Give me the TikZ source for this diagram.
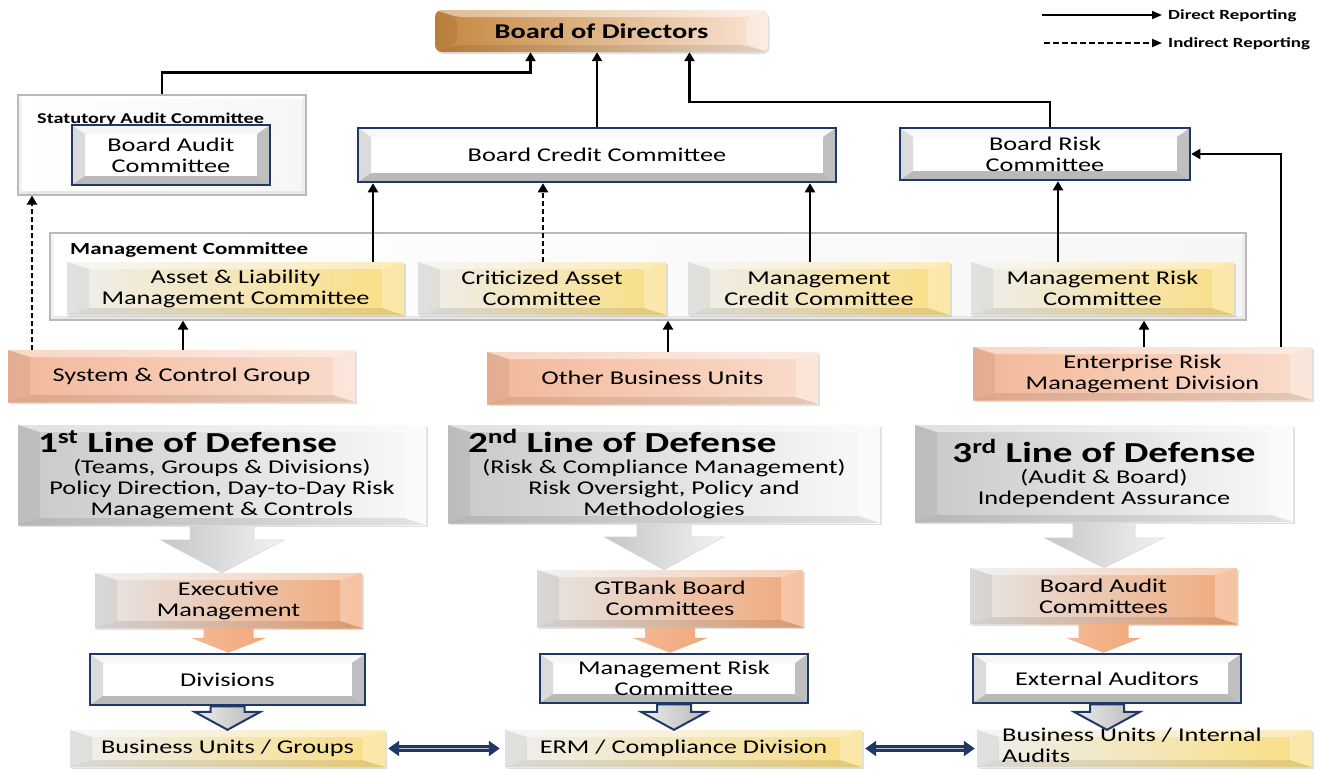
\documentclass[tikz,border=0pt]{standalone}
\usepackage{fontspec}
\setmainfont{Carlito}[FakeStretch=1.35]
\usetikzlibrary{arrows.meta,calc,shadows}

\definecolor{navy}{RGB}{31,56,100}
\definecolor{bodL}{RGB}{196,134,62}
\definecolor{bodR}{RGB}{251,230,214}
\definecolor{yelL}{RGB}{238,238,238}
\definecolor{yelR}{RGB}{250,222,130}
\definecolor{peaL}{RGB}{242,184,154}
\definecolor{peaR}{RGB}{250,220,204}
\definecolor{oraL}{RGB}{230,230,230}
\definecolor{oraR}{RGB}{241,168,122}
\definecolor{gryL}{RGB}{200,200,200}
\definecolor{gryR}{RGB}{250,250,250}

% bevel edges drawn inside a node (top, left, bottom, right, inset x, inset y)
\newcommand{\bevelfill}[6]{%
  \coordinate (bvnw) at (path picture bounding box.north west);
  \coordinate (bvne) at (path picture bounding box.north east);
  \coordinate (bvsw) at (path picture bounding box.south west);
  \coordinate (bvse) at (path picture bounding box.south east);
  \fill[#1] (bvnw) -- (bvne) -- ($(bvne)+(-#5,#6)$) -- ($(bvnw)+(#5,#6)$) -- cycle;
  \fill[#2] (bvnw) -- ($(bvnw)+(#5,#6)$) -- ($(bvsw)+(#5,-#6)$) -- (bvsw) -- cycle;
  \fill[#3] (bvsw) -- ($(bvsw)+(#5,-#6)$) -- ($(bvse)+(-#5,-#6)$) -- (bvse) -- cycle;
  \fill[#4] (bvse) -- ($(bvse)+(-#5,-#6)$) -- ($(bvne)+(-#5,#6)$) -- (bvne) -- cycle;}

% block arrow from one node down to the next (style, from, to, half shaft, half head, head length)
\newcommand{\fatarrow}[6]{%
  \coordinate (#2-tip) at (#2.south |- #3.north);
  \path[#1] ($(#2.south)+(-#4,0)$) -- ($(#2.south)+(#4,0)$)
    -- ($(#2-tip)+(#4,-#6)$) -- ($(#2-tip)+(#5,-#6)$) -- (#2-tip)
    -- ($(#2-tip)+(-#5,-#6)$) -- ($(#2-tip)+(-#4,-#6)$) -- cycle;}

\tikzset{
  every node/.style={inner sep=0pt, align=center, font=\fontsize{19.5}{21}\selectfont},
  sz/.style 2 args={minimum width=#1pt, minimum height=#2pt},
  soft/.style={drop shadow={opacity=0.25, shadow xshift=1.5pt, shadow yshift=-2pt},
    path picture={\bevelfill{white,fill opacity=0.45}{black,fill opacity=0.06}{black,fill opacity=0.09}{white,fill opacity=0.30}{22}{7}}},
  bodbox/.style={soft, rounded corners=7pt, left color=bodL, right color=bodR, font=\fontsize{21}{23}\selectfont\bfseries},
  yellowbox/.style={soft, left color=yelL, right color=yelR},
  peachbox/.style={soft, left color=peaL, right color=peaR},
  orangebox/.style={soft, left color=oraL, right color=oraR},
  lodbox/.style={soft, left color=gryL, right color=gryR},
  outerbox/.style={draw=gray!55, line width=1.2pt, left color=white, right color=gray!7,
    path picture={\bevelfill{white}{gray!10}{gray!18}{gray!14}{4}{4}}},
  framebox/.style={draw=navy, line width=2.5pt, fill=white,
    path picture={\bevelfill{gray!6}{gray!28}{gray!55}{gray!50}{13}{9}}},
  smalltitle/.style={anchor=west, font=\fontsize{15}{17}\selectfont\bfseries},
  legendtext/.style={anchor=west, font=\fontsize{14}{16}\selectfont\bfseries},
  conn/.style={line width=2.5pt, -{Triangle[length=9pt,width=10pt]}},
  indirect/.style={conn, dash pattern=on 5pt off 3pt},
  legendline/.style={line width=1.8pt, -{Triangle[length=10pt,width=8pt]}},
  bothway/.style={draw=navy, line width=2.4pt, double=gray!45, double distance=1.4pt,
    {Triangle[length=11pt,width=15pt]}-{Triangle[length=11pt,width=15pt]}},
  bigarrow/.style={left color=gray!45, right color=gray!10, draw=gray!30, line width=0.6pt},
  orangearrow/.style={left color=oraR!80!white, right color=oraR, draw=none},
  bluearrow/.style={left color=gray!15, right color=gray!55, draw=navy, line width=2pt}
}

\begin{document}
\begin{tikzpicture}[x=1pt, y=-1pt]
\useasboundingbox (0,0) rectangle (1327,769);

% legend
\coordinate (dirA) at (1042,15);
\coordinate (dirB) at (1162,15);
\coordinate (indA) at (1044,43);
\coordinate (indB) at (1162,43);
\node[legendtext] (dirtext) at (1168,16) {Direct Reporting};
\node[legendtext] (indtext) at (1168,44) {Indirect Reporting};
\draw[legendline] (dirA) -- (dirB);
\draw[legendline, dash pattern=on 6pt off 3pt] (indA) -- (indB);

% top board
\node[bodbox, sz={333}{42}] (bod) at (601.5,31) {Board of Directors};

% board committees
\node[outerbox, sz={288}{100}] (sac) at (162,145) {};
\node[smalltitle] (sactitle) at (37,119) {Statutory Audit Committee};
\node[framebox, sz={198}{60}] (bac) at (171,155) {Board Audit\\Committee};
\node[framebox, sz={478}{54}] (bcc) at (597,155) {Board Credit Committee};
\node[framebox, sz={290}{52}] (brc) at (1045,154) {Board Risk\\Committee};

% management committee
\node[outerbox, sz={1196}{87}] (mc) at (648,276.5) {};
\node[smalltitle, font=\fontsize{17}{19}\selectfont\bfseries] (mctitle) at (70,250) {Management Committee};
\node[yellowbox, sz={337}{53}] (almc) at (235.5,288.5) {Asset \& Liability\\Management Committee};
\node[yellowbox, sz={248}{53}] (cac) at (542,288.5) {Criticized Asset\\Committee};
\node[yellowbox, sz={262}{53}] (mcc) at (819,288.5) {Management\\Credit Committee};
\node[yellowbox, sz={263}{53}] (mrc) at (1102.5,288.5) {Management Risk\\Committee};

% units
\node[peachbox, sz={347}{52}] (scg) at (181.5,376) {System \& Control Group};
\node[peachbox, sz={331}{52}] (obu) at (652.5,378) {Other Business Units};
\node[peachbox, sz={339}{53}] (ermd) at (1142.5,373.5) {Enterprise Risk\\Management Division};

% lines of defense
\node[lodbox, sz={408}{100}] (lod1) at (222,475)
  {\makebox[390pt][l]{\hspace{11pt}\fontsize{29}{30}\selectfont\bfseries 1\textsuperscript{st} Line of Defense}\\
   (Teams, Groups \& Divisions)\\Policy Direction, Day-to-Day Risk\\Management \& Controls};
\node[lodbox, sz={432}{98}] (lod2) at (664,474)
  {\makebox[410pt][l]{\hspace{9pt}\fontsize{29}{30}\selectfont\bfseries 2\textsuperscript{nd} Line of Defense}\\
   (Risk \& Compliance Management)\\Risk Oversight, Policy and\\Methodologies};
\node[lodbox, sz={378}{97}] (lod3) at (1104,473.5)
  {{\fontsize{29}{30}\selectfont\bfseries 3\textsuperscript{rd} Line of Defense}\\
   (Audit \& Board)\\Independent Assurance};

\node[orangebox, sz={267}{55}] (exec) at (228.5,600.5) {Executive\\Management};
\node[orangebox, sz={266}{57}] (gtb) at (670,598.5) {GTBank Board\\Committees};
\node[orangebox, sz={267}{56}] (bauc) at (1103.5,596) {Board Audit\\Committees};

\node[framebox, sz={275}{51}] (divs) at (227.5,679.5) {Divisions};
\node[framebox, sz={268}{49}] (mrc2) at (674,678.5) {Management Risk\\Committee};
\node[framebox, sz={268}{49}] (ext) at (1107,678.5) {External Auditors};

\node[yellowbox, sz={315}{37}] (bug) at (227.5,748.5) {Business Units / Groups};
\node[yellowbox, sz={357}{37}] (erm) at (683.5,748.5) {ERM / Compliance Division};
\node[yellowbox, sz={335}{37}] (buia) at (1144.5,748.5) {};
\node[anchor=north west, align=left] (buiatext) at (1002,728) {Business Units / Internal\\Audits};

% block arrows
\fatarrow{bigarrow}{lod1}{exec}{32}{62}{33}
\fatarrow{bigarrow}{lod2}{gtb}{27}{60}{33}
\fatarrow{bigarrow}{lod3}{bauc}{31}{60}{30}
\fatarrow{orangearrow}{exec}{divs}{25}{38}{15}
\fatarrow{orangearrow}{gtb}{mrc2}{25}{38}{15}
\fatarrow{orangearrow}{bauc}{ext}{25}{38}{15}
\fatarrow{bluearrow}{divs}{bug}{17}{33}{18}
\fatarrow{bluearrow}{mrc2}{erm}{17}{33}{18}
\fatarrow{bluearrow}{ext}{buia}{17}{33}{18}

% reporting lines
\draw[conn] (sac.north) -- ++(0,-22) -| ([xshift=-71pt]bod.south);
\draw[conn] (bcc.north) -- (bcc.north |- bod.south);
\draw[conn] ([xshift=5pt]brc.north) -- ++(0,-25) -| ([xshift=88pt]bod.south);
\draw[conn] ([xshift=137.5pt]almc.north) -- ([xshift=137.5pt]almc.north |- bcc.south);
\draw[indirect] ([xshift=1pt]cac.north) -- ([xshift=1pt]cac.north |- bcc.south);
\draw[conn] ([xshift=-9pt]mcc.north) -- ([xshift=-9pt]mcc.north |- bcc.south);
\draw[conn] ([xshift=-44.5pt]mrc.north) -- ([xshift=-44.5pt]mrc.north |- brc.south);
\draw[conn] ([xshift=1.5pt]scg.north) -- ([xshift=1.5pt]scg.north |- mc.south);
\draw[indirect] ([xshift=-149.5pt]scg.north) -- ([xshift=-149.5pt]scg.north |- sac.south);
\draw[conn] ([xshift=15.5pt]obu.north) -- ([xshift=15.5pt]obu.north |- mc.south);
\draw[conn] ([xshift=1.5pt]ermd.north) -- ([xshift=1.5pt]ermd.north |- mc.south);
\draw[conn] ([xshift=138.5pt]ermd.north) |- (brc.east);
\draw[bothway, shorten <=3pt, shorten >=5pt] (bug.east) -- (erm.west);
\draw[bothway, shorten <=3pt, shorten >=2pt] (erm.east) -- (buia.west);
\end{tikzpicture}
\end{document}
